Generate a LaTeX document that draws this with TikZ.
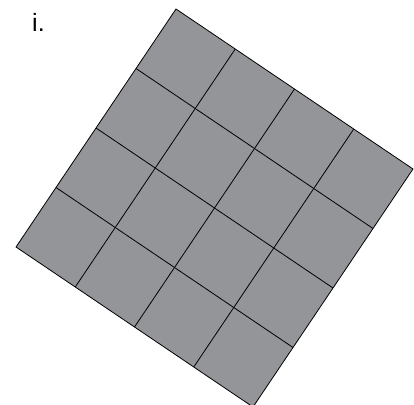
\documentclass[tikz,border=0pt]{standalone}
\usepackage{fontspec}
\setmainfont{Liberation Sans}
\usetikzlibrary{calc}
\definecolor{tilegray}{RGB}{147,149,152}
\begin{document}
\begin{tikzpicture}[x=1pt,y=-1pt,gridline/.style={draw=black,line width=0.8pt,line join=miter}]
\useasboundingbox (0,0) rectangle (414,404);
\coordinate (T) at (176,9);
\coordinate (R) at (413,169);
\coordinate (L) at (16,247);
\coordinate (B) at (253,407);
\begin{scope}
\clip (0,0) rectangle (414,404);
\fill[tilegray] (T) -- (R) -- (B) -- (L) -- cycle;
\foreach \k in {1,2,3}{
  \draw[gridline] ($(T)!\k/4!(R)$) -- ($(L)!\k/4!(B)$);
  \draw[gridline] ($(T)!\k/4!(L)$) -- ($(R)!\k/4!(B)$);
}
\draw[gridline] (T) -- (R) -- (B) -- (L) -- cycle;
\end{scope}
\node[anchor=base west,inner sep=0pt,font=\fontsize{25}{28}\selectfont] (lbl) at (32,31) {i.};
\end{tikzpicture}
\end{document}
